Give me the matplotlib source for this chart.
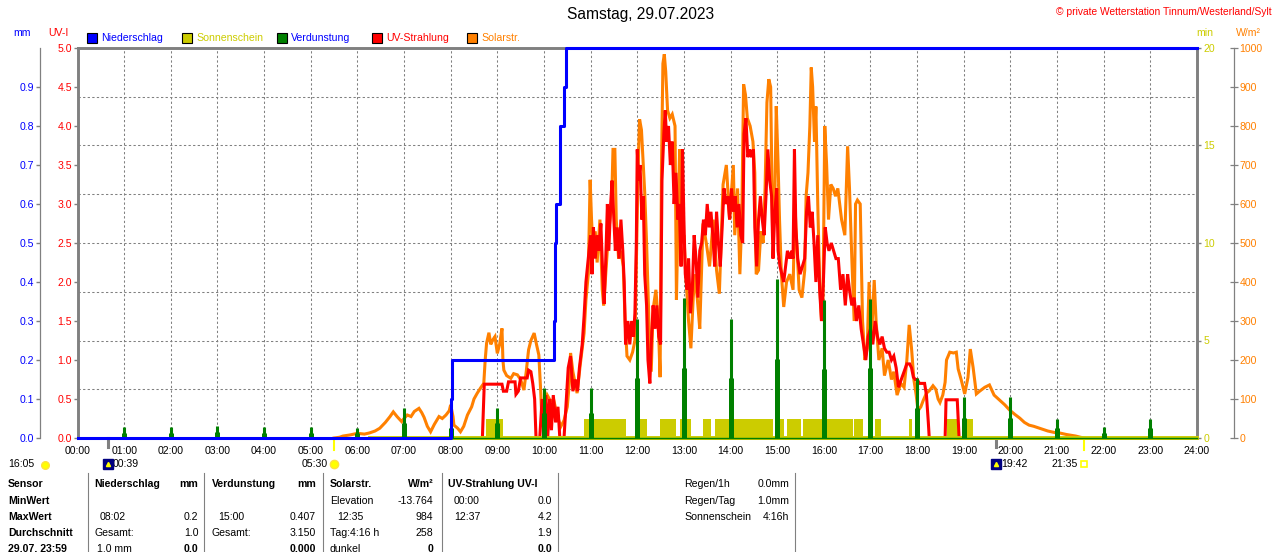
import numpy as np
import matplotlib
matplotlib.use('Agg')
import matplotlib.pyplot as plt
from matplotlib.patches import Rectangle
from matplotlib.lines import Line2D
import matplotlib.transforms as mtransforms

plt.rcParams['font.family'] = ['Liberation Sans', 'DejaVu Sans']

# ---------------- data ----------------
hours = list(range(25))
hour_labels = [f"{h:02d}:00" for h in hours]

# cumulative rain (mm)
rain_t = [0.0, 8.0, 8.033, 10.208, 10.23, 10.25, 10.35, 10.44, 10.465, 24.0]
rain_v = [0.0, 0.1, 0.2, 0.3, 0.5, 0.6, 0.8, 0.9, 1.0, 1.0]

# hourly evaporation (mm)
evap_t = list(range(1, 24))
evap_v = [0.028, 0.028, 0.03, 0.028, 0.028, 0.025, 0.076, 0.05, 0.078, 0.129, 0.129,
          0.306, 0.358, 0.306, 0.407, 0.355, 0.357, 0.155, 0.104, 0.105, 0.05, 0.028, 0.05]

# sunshine intervals (1 min per minute)
sun_start = [8.76, 10.86, 11.98, 12.49, 12.91, 13.41, 13.66, 14.95, 15.21, 15.55, 16.65, 17.10, 17.83, 18.63, 19.06]
sun_end   = [9.13, 11.76, 12.20, 12.84, 13.16, 13.59, 14.91, 15.14, 15.51, 16.62, 16.83, 17.23, 17.90, 18.88, 19.20]
sun_line_start = 6.27

# UV index
uv_t = [8.68, 8.72, 9.10, 9.13, 9.20, 9.24, 9.38, 9.40, 9.45, 9.50, 9.64, 9.67, 9.72, 9.76, 9.80, 9.83,
        9.91, 9.96, 10.00, 10.04, 10.08, 10.12, 10.16, 10.20, 10.25, 10.30, 10.34, 10.43, 10.47, 10.52,
        10.57, 10.62, 10.67, 10.72, 10.76, 10.82, 10.86, 10.90, 10.95,
        11.00, 11.03, 11.06, 11.10, 11.14, 11.18, 11.22, 11.26, 11.29, 11.32, 11.36, 11.39, 11.43, 11.46,
        11.50, 11.53, 11.57, 11.61, 11.65, 11.69, 11.72, 11.75, 11.80, 11.84, 11.88, 11.92, 11.95, 11.98,
        12.00, 12.03, 12.06, 12.10, 12.13, 12.16, 12.20, 12.23, 12.27, 12.30, 12.34, 12.38, 12.42, 12.46,
        12.50, 12.53, 12.57, 12.60, 12.63, 12.67, 12.71, 12.75, 12.79, 12.83, 12.87, 12.90, 12.94, 12.97,
        13.00, 13.03, 13.07, 13.10, 13.14, 13.18, 13.22, 13.26, 13.30, 13.34, 13.38, 13.42, 13.46, 13.50,
        13.54, 13.58, 13.62, 13.66, 13.70, 13.74, 13.78, 13.82, 13.86, 13.90, 13.94, 13.98, 14.02, 14.06,
        14.10, 14.14, 14.18, 14.22, 14.26, 14.29, 14.33, 14.37, 14.41, 14.45, 14.49, 14.52, 14.56, 14.60,
        14.64, 14.68, 14.72, 14.76, 14.80, 14.84, 14.88, 14.91, 14.95, 14.99, 15.02, 15.06, 15.10, 15.14,
        15.18, 15.22, 15.27, 15.31, 15.34, 15.37, 15.40, 15.44, 15.49, 15.54, 15.59, 15.63, 15.67, 15.71,
        15.75, 15.79, 15.83, 15.87, 15.91, 15.95, 15.99, 16.03, 16.07, 16.11, 16.16, 16.21, 16.26, 16.31,
        16.36, 16.41, 16.46, 16.51, 16.55, 16.60, 16.65, 16.70, 16.75, 16.80, 16.85, 16.90, 16.95, 17.00,
        17.05, 17.10, 17.15, 17.20, 17.25, 17.30, 17.35, 17.40, 17.45, 17.50, 17.55, 17.60, 17.66, 17.72,
        17.78, 17.84, 17.88, 17.92, 17.96, 18.00, 18.05, 18.16, 18.20, 18.24, 18.26, 18.60, 18.62, 18.86,
        18.90]
uv_v = [0.0, 0.69, 0.69, 0.60, 0.60, 0.72, 0.72, 0.56, 0.60, 0.77, 0.77, 0.87, 0.85, 0.70, 0.50, 0.0,
        0.0, 0.50, 0.10, 0.55, 0.0, 0.50, 0.10, 0.55, 0.20, 0.40, 0.0, 0.0, 0.40, 0.90,
        1.05, 0.60, 0.75, 0.60, 0.90, 1.20, 1.56, 2.00, 2.30,
        2.60, 2.10, 2.70, 2.30, 2.60, 2.40, 2.75, 2.10, 1.72, 2.20, 3.00, 2.40, 3.00, 3.30,
        2.80, 2.40, 2.70, 2.30, 2.80, 2.40, 2.00, 1.20, 1.50, 1.20, 1.50, 1.30, 1.60, 2.50,
        3.70, 3.30, 3.50, 2.80, 3.10, 2.10, 1.70, 1.00, 0.70, 1.20, 1.70, 1.40, 1.70, 1.30,
        1.20, 3.30, 3.90, 4.20, 3.80, 4.00, 3.50, 3.80, 3.00, 3.40, 2.80, 3.00, 2.20, 3.70,
        2.80, 2.10, 1.90, 2.30, 1.60, 1.90, 2.60, 2.30, 1.80, 2.40, 2.50, 2.80, 2.60, 3.00,
        2.70, 2.90, 2.60, 2.20, 2.90, 2.50, 2.20, 2.70, 3.20, 3.00, 3.10, 2.80, 3.20, 2.90,
        3.10, 2.70, 3.00, 2.60, 2.50, 3.90, 4.10, 3.60, 3.70, 3.60, 3.70, 2.70, 2.20, 2.80,
        3.10, 2.80, 2.60, 3.10, 3.70, 3.30, 3.10, 2.30, 2.90, 3.20, 2.40, 2.20, 2.10, 2.00,
        2.20, 2.40, 2.30, 2.40, 2.30, 3.70, 2.70, 2.30, 2.10, 2.20, 2.30, 2.90, 3.10, 2.70,
        2.90, 2.50, 2.00, 2.60, 1.90, 1.50, 2.00, 2.70, 2.50, 2.40, 2.50, 2.40, 2.30, 2.30,
        1.90, 2.10, 1.70, 2.10, 1.90, 1.70, 1.80, 1.50, 1.70, 1.40, 1.20, 1.00, 1.30, 1.40,
        1.20, 1.50, 1.30, 1.20, 1.30, 1.15, 1.10, 1.10, 1.00, 1.05, 0.90, 0.65, 0.75, 0.85,
        0.95, 0.95, 0.90, 0.78, 0.75, 0.75, 0.70, 0.70, 0.55, 0.20, 0.0, 0.0, 0.49, 0.49,
        0.0]

# solar radiation (W/m²)
solar_t = [5.50, 5.62, 5.69, 5.85, 6.00, 6.15, 6.26, 6.38, 6.48, 6.60, 6.70, 6.77, 6.85, 6.95, 7.00,
           7.07, 7.15, 7.22, 7.32, 7.38, 7.43, 7.50, 7.57, 7.65, 7.75, 7.82, 7.90, 7.97, 8.00, 8.05,
           8.07, 8.15, 8.21, 8.28, 8.36, 8.45, 8.50, 8.57, 8.65, 8.71, 8.74, 8.77, 8.82, 8.86, 8.90,
           8.95, 9.00, 9.05, 9.10, 9.12, 9.14, 9.20, 9.29, 9.35, 9.43, 9.50, 9.57, 9.62, 9.67, 9.72,
           9.79, 9.84, 9.89, 9.93, 9.96, 10.00, 10.07, 10.14, 10.21, 10.28, 10.36, 10.43, 10.50, 10.55,
           10.57, 10.62, 10.67, 10.71, 10.78, 10.86, 10.90, 10.95,
           10.99, 11.02, 11.06, 11.10, 11.14, 11.20, 11.25, 11.28, 11.34, 11.38, 11.45, 11.48, 11.52,
           11.55, 11.60, 11.65, 11.70, 11.74, 11.78, 11.84, 11.90, 11.95, 11.99, 12.02, 12.05, 12.09,
           12.13, 12.16, 12.20, 12.25, 12.30, 12.34, 12.40, 12.45, 12.49, 12.52, 12.55, 12.58, 12.61,
           12.65, 12.70, 12.75, 12.81, 12.84, 12.88, 12.91, 12.95, 13.00, 13.04, 13.10, 13.15, 13.20,
           13.24, 13.30, 13.34, 13.41, 13.48, 13.55, 13.63, 13.70, 13.76, 13.84, 13.91, 13.98, 14.06,
           14.09, 14.15, 14.20, 14.24, 14.28, 14.32, 14.36, 14.42, 14.48, 14.52, 14.55, 14.60, 14.65,
           14.70, 14.74, 14.78, 14.82, 14.86, 14.90, 14.95, 14.98, 15.02, 15.05, 15.09, 15.14, 15.20,
           15.27, 15.34, 15.38, 15.41, 15.47, 15.53, 15.59, 15.62, 15.66, 15.70, 15.73, 15.76, 15.80,
           15.83, 15.87, 15.91, 15.95, 15.98, 16.02, 16.06, 16.10, 16.15, 16.20, 16.25, 16.30, 16.38,
           16.45, 16.51, 16.55, 16.60, 16.65, 16.68, 16.72, 16.78, 16.83, 16.88, 16.93, 16.97, 17.02,
           17.08, 17.12, 17.18, 17.25, 17.30, 17.38, 17.45, 17.50, 17.57, 17.65, 17.72, 17.78, 17.83,
           17.88, 17.93, 17.98, 18.02, 18.08, 18.13, 18.20, 18.26, 18.34, 18.40, 18.45, 18.49, 18.55,
           18.60, 18.63, 18.70, 18.78, 18.84, 18.88, 18.95, 19.02, 19.09, 19.14, 19.20, 19.27, 19.34,
           19.45, 19.55, 19.65, 19.77, 19.88, 19.98, 20.10, 20.20, 20.30, 20.40, 20.50, 20.60, 20.70,
           20.80, 20.95, 21.05, 21.20, 21.40, 21.50, 21.58]
solar_v = [0, 2, 5, 8, 12, 10, 13, 18, 25, 40, 55, 67, 55, 42, 50,
           59, 55, 68, 76, 65, 53, 30, 16, 35, 55, 50, 59, 70, 85, 55,
           33, 25, 16, 30, 59, 80, 100, 115, 130, 140, 200, 243, 270, 240, 251,
           260, 217, 240, 281, 200, 174, 160, 153, 165, 162, 150, 123, 170, 226, 250,
           269, 240, 213, 120, 38, 80, 110, 95, 97, 60, 29, 45, 80, 150,
           218, 170, 140, 115, 190, 269, 354, 420,
           662, 560, 470, 530, 450, 560, 380, 340, 450, 520, 600, 740, 740,
           560, 460, 480, 440, 300, 210, 200, 220, 250, 500, 700, 817, 790,
           700, 630, 500, 300, 170, 330, 380, 300, 156, 700, 960, 984, 940,
           840, 820, 830, 800, 354, 600, 740, 500, 520, 420, 300, 230, 360,
           420, 340, 280, 550, 500, 440, 560, 430, 370, 650, 700, 560, 700,
           520, 640, 420, 560, 907, 880, 820, 800, 760, 680, 420, 430, 530,
           500, 640, 860, 920, 900, 540, 620, 851, 700, 560, 420, 336, 400,
           420, 380, 600, 520, 380, 360, 430, 620, 680, 800, 950, 900, 760,
           850, 600, 400, 300, 330, 800, 700, 560, 650, 640, 620, 640, 560,
           520, 748, 640, 460, 300, 600, 610, 600, 300, 200, 230, 400, 250,
           405, 300, 200, 230, 160, 200, 150, 170, 110, 140, 130, 200, 290,
           230, 150, 110, 70, 80, 96, 115, 121, 134, 125, 100, 91, 110,
           143, 200, 220, 218, 220, 177, 147, 113, 155, 228, 181, 113, 120,
           130, 136, 110, 97, 85, 72, 60, 51, 40, 33, 30, 26, 22,
           18, 14, 13, 9, 5, 2, 0]

# astronomical events
moonrise_t, moonrise_lbl = 0.65, "00:39"
sunrise_t, sunrise_lbl = 5.5, "05:30"
moonset_t, moonset_lbl = 19.7, "19:42"
sunset_t, sunset_lbl = 21.583, "21:35"
daylength_lbl = "16:05"

# ---------------- figure ----------------
W, H = 1280, 552
fig = plt.figure(figsize=(12.8, 5.52), dpi=100)
fig.patch.set_facecolor('white')

def fx(x):
    return x / W

def fy(y):
    return 1 - y / H

BLUE = '#0000ff'
YEL = '#cccc00'
GREEN = '#008000'
RED = '#ff0000'
ORANGE = '#ff8000'
GRAY = '#808080'
FS = 7.6

pos = [fx(77.5), fy(438), (1197 - 77.5) / W, (438 - 48) / H]
ax_min = fig.add_axes(pos)
ax_wm = ax_min.twinx()
ax_uv = ax_min.twinx()
ax_mm = ax_min.twinx()
ax_min.yaxis.tick_right()

for z, a in enumerate([ax_min, ax_wm, ax_uv, ax_mm]):
    a.set_zorder(z + 1)
    if a is not ax_min:
        a.patch.set_visible(False)
        for s in a.spines.values():
            s.set_visible(False)

ax_min.set_xlim(0, 24)
ax_min.set_ylim(0, 20)
ax_wm.set_ylim(0, 1000)
ax_uv.set_ylim(0, 5)
ax_mm.set_ylim(0, 1.0)

# grid / x axis on base axes
ax_min.set_xticks(hours)
ax_min.set_xticklabels(hour_labels)
ax_min.set_yticks([0, 5, 10, 15, 20])
ax_min.set_yticks(np.arange(0, 20.01, 2.5), minor=True)
ax_min.grid(True, which='both', color=GRAY, linestyle=(0, (2.2, 2.2)), linewidth=0.75)
ax_min.set_axisbelow(True)
ax_min.tick_params(axis='x', length=0, pad=6, labelsize=FS)
ax_min.tick_params(axis='y', which='major', right=True, left=False, labelright=True, labelleft=False,
                   length=3.1, width=1, color=GRAY, labelcolor=YEL, pad=1.4, labelsize=FS)
ax_min.tick_params(axis='y', which='minor', length=0)
for k in ['left', 'right', 'top', 'bottom']:
    ax_min.spines[k].set_color(GRAY)
    ax_min.spines[k].set_linewidth(2.1)

# W/m² axis (right, outward)
ax_wm.spines['right'].set_visible(True)
ax_wm.spines['right'].set_position(('outward', 26.9))
ax_wm.spines['right'].set_color(GRAY)
ax_wm.spines['right'].set_linewidth(0.9)
ax_wm.set_yticks(np.arange(0, 1001, 100))
ax_wm.tick_params(axis='y', direction='inout', length=6.3, width=0.9, color=GRAY,
                  labelcolor=ORANGE, pad=0.5, labelsize=FS)

# UV axis (left, at plot edge)
ax_uv.yaxis.tick_left()
ax_uv.set_yticks(np.arange(0, 5.01, 0.5))
ax_uv.set_yticklabels([f"{v:.1f}" for v in np.arange(0, 5.01, 0.5)])
ax_uv.tick_params(axis='y', length=3.2, width=1, color=GRAY, labelcolor=RED, pad=0.8, labelsize=FS)

# mm axis (left, outward)
ax_mm.yaxis.tick_left()
ax_mm.spines['left'].set_visible(True)
ax_mm.spines['left'].set_position(('outward', 26.8))
ax_mm.spines['left'].set_color(GRAY)
ax_mm.spines['left'].set_linewidth(0.9)
ax_mm.set_yticks(np.arange(0, 0.91, 0.1))
ax_mm.set_yticklabels([f"{v:.1f}" for v in np.arange(0, 0.91, 0.1)])
ax_mm.tick_params(axis='y', length=3.1, width=1, color=GRAY, labelcolor=BLUE, pad=1.2, labelsize=FS)

# ---------------- series ----------------
sun_w = np.array(sun_end) - np.array(sun_start)
ax_min.bar(sun_start, np.ones(len(sun_start)), width=sun_w, align='edge', color=YEL, linewidth=0, zorder=3)

ax_wm.plot(solar_t, solar_v, color=ORANGE, lw=2.2, solid_joinstyle='miter')
ax_uv.plot(uv_t, uv_v, color=RED, lw=2.2, solid_joinstyle='miter')

ax_mm.axhline(0, xmin=sun_line_start / 24, color=YEL, lw=2.8, clip_on=False)
ax_mm.axhline(0, color=GREEN, lw=1.0, clip_on=False)
ax_mm.vlines(evap_t, 0, evap_v, color=GREEN, lw=2.2)
ax_mm.vlines(evap_t, 0, np.array(evap_v) / 2, color=GREEN, lw=3.6)
ax_mm.plot(rain_t, rain_v, drawstyle='steps-post', color=BLUE, lw=2.2, clip_on=False)

# ---------------- event markers under the x axis ----------------
trans = mtransforms.blended_transform_factory(ax_min.transData, ax_min.transAxes)
for t in (moonrise_t, moonset_t):
    ax_min.plot([t, t], [0, -0.022], transform=trans, color=GRAY, lw=2.2, clip_on=False, zorder=5)
for t in (sunrise_t, sunset_t):
    ax_min.plot([t, t], [0, -0.03], transform=trans, color='#ffff00', lw=1.5, clip_on=False, zorder=5)

icon_y = -(464 - 438) / 390
for t, lbl in ((moonrise_t, moonrise_lbl), (moonset_t, moonset_lbl)):
    ax_min.plot([t], [icon_y], transform=trans, marker='s', ms=6.5, mfc='#000080', mec='#000080',
                clip_on=False, zorder=6)
    ax_min.plot([t], [icon_y], transform=trans, marker='^', ms=3, mfc='#ffff00', mec='#ffff00',
                clip_on=False, zorder=7)
    ax_min.annotate(lbl, xy=(t, icon_y), xycoords=trans, xytext=(5, 0), textcoords='offset pixels',
                    ha='left', va='center', fontsize=FS)
ax_min.plot([sunrise_t], [icon_y], transform=trans, marker='o', ms=6, mfc='#ffff00', mec='#ffe040',
            clip_on=False, zorder=6)
ax_min.annotate(sunrise_lbl, xy=(sunrise_t, icon_y), xycoords=trans, xytext=(-6, 0),
                textcoords='offset pixels', ha='right', va='center', fontsize=FS)
ax_min.plot([sunset_t], [icon_y], transform=trans, marker='s', ms=4, mfc='white', mec='#ffff00',
            mew=1.2, clip_on=False, zorder=6)
ax_min.annotate(sunset_lbl, xy=(sunset_t, icon_y), xycoords=trans, xytext=(-6, 0),
                textcoords='offset pixels', ha='right', va='center', fontsize=FS)
fig.text(fx(8), fy(464), daylength_lbl, ha='left', va='center', fontsize=FS)
fig.add_artist(Line2D([fx(44.5)], [fy(465)], marker='o', ms=5.5, mfc='#ffff00', mec='#ffe040',
                      transform=fig.transFigure))

# ---------------- titles / axis names ----------------
fig.text(fx(641), fy(15), "Samstag, 29.07.2023", ha='center', va='center', fontsize=11.2)
fig.text(fx(1272), fy(12), "\u00a9 private Wetterstation Tinnum/Westerland/Sylt", ha='right',
         va='center', fontsize=7.4, color=RED)
fig.text(fx(22), fy(33), "mm", ha='center', va='center', fontsize=FS, color=BLUE)
fig.text(fx(58), fy(33), "UV-I", ha='center', va='center', fontsize=FS, color=RED)
fig.text(fx(1205), fy(33), "min", ha='center', va='center', fontsize=FS, color=YEL)
fig.text(fx(1248), fy(33), "W/m\u00b2", ha='center', va='center', fontsize=FS, color=ORANGE)

legend_items = [("Niederschlag", BLUE, BLUE, 87), ("Sonnenschein", YEL, YEL, 182),
                ("Verdunstung", GREEN, BLUE, 277), ("UV-Strahlung", RED, RED, 372),
                ("Solarstr.", ORANGE, ORANGE, 467)]
for name, fc, tc, x0 in legend_items:
    fig.add_artist(Rectangle((fx(x0), fy(43)), 9.5 / W, 9.5 / H, transform=fig.transFigure,
                             facecolor=fc, edgecolor='black', linewidth=0.8))
    fig.text(fx(x0 + 14), fy(38), name, ha='left', va='center', fontsize=FS, color=tc)

# ---------------- table ----------------
rows_y = [484, 501, 517, 533, 549]
for y, s in zip(rows_y, ["Sensor", "MinWert", "MaxWert", "Durchschnitt", "29.07. 23:59"]):
    fig.text(fx(8), fy(y), s, ha='left', va='center', fontsize=FS, fontweight='bold')

for x in (88, 204, 323, 441.5, 558, 795):
    fig.add_artist(Line2D([fx(x), fx(x)], [fy(473), fy(552)], color=GRAY, lw=0.8,
                          transform=fig.transFigure))

def cell(x, y, s, ha='left', bold=False):
    fig.text(fx(x), fy(y), s, ha=ha, va='center', fontsize=FS,
             fontweight='bold' if bold else 'normal')

# Niederschlag
cell(94.5, 484, "Niederschlag", bold=True); cell(198.5, 484, "mm", 'right', True)
cell(100, 517, "08:02"); cell(198.5, 517, "0.2", 'right')
cell(94.5, 533, "Gesamt:"); cell(198.5, 533, "1.0", 'right')
cell(97, 549, "1.0 mm"); cell(198.5, 549, "0.0", 'right', True)
# Verdunstung
cell(212, 484, "Verdunstung", bold=True); cell(316, 484, "mm", 'right', True)
cell(218, 517, "15:00"); cell(316, 517, "0.407", 'right')
cell(212, 533, "Gesamt:"); cell(316, 533, "3.150", 'right')
cell(316, 549, "0.000", 'right', True)
# Solarstr.
cell(330, 484, "Solarstr.", bold=True); cell(433.5, 484, "W/m\u00b2", 'right', True)
cell(330, 501, "Elevation"); cell(433.5, 501, "-13.764", 'right')
cell(337, 517, "12:35"); cell(433.5, 517, "984", 'right')
cell(330, 533, "Tag:4:16 h"); cell(433.5, 533, "258", 'right')
cell(330, 549, "dunkel"); cell(433.5, 549, "0", 'right', True)
# UV
cell(448, 484, "UV-Strahlung UV-I", bold=True)
cell(454, 501, "00:00"); cell(552, 501, "0.0", 'right')
cell(454, 517, "12:37"); cell(552, 517, "4.2", 'right')
cell(552, 533, "1.9", 'right')
cell(552, 549, "0.0", 'right', True)
# summary
cell(684, 484, "Regen/1h"); cell(789, 484, "0.0mm", 'right')
cell(684, 501, "Regen/Tag"); cell(789, 501, "1.0mm", 'right')
cell(684, 517, "Sonnenschein"); cell(789, 517, "4:16h", 'right')

fig.savefig("out.png", dpi=100, facecolor='white')
